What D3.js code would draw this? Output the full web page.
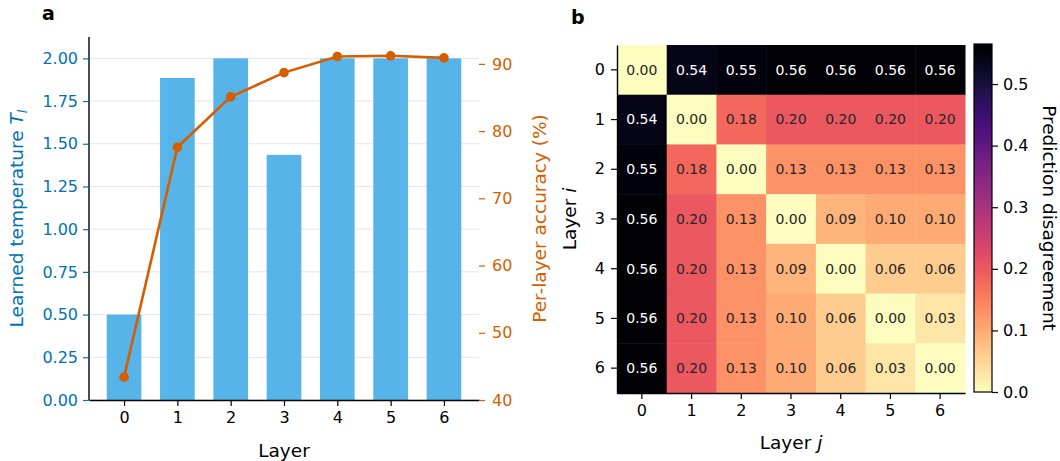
<!DOCTYPE html>
<html>
<head>
<meta charset="utf-8">
<script src="https://cdn.jsdelivr.net/npm/d3@7"></script>
<style>
  body { margin: 0; background: #fff; }
  svg { display: block; font-family: "DejaVu Sans", sans-serif; }
</style>
</head>
<body>
<svg id="fig" width="1060" height="461"></svg>
<script>
const layers = [0, 1, 2, 3, 4, 5, 6];
const temperature = [0.50, 1.885, 2.00, 1.435, 2.00, 2.00, 2.00];
const accuracy = [43.4, 77.6, 85.1, 88.7, 91.1, 91.2, 90.9];
const tempTicks = [0, 0.25, 0.5, 0.75, 1, 1.25, 1.5, 1.75, 2];
const accTicks = [40, 50, 60, 70, 80, 90];
const disagreement = [
  [0.00, 0.54, 0.55, 0.56, 0.56, 0.56, 0.56],
  [0.54, 0.00, 0.18, 0.20, 0.20, 0.20, 0.20],
  [0.55, 0.18, 0.00, 0.13, 0.13, 0.13, 0.13],
  [0.56, 0.20, 0.13, 0.00, 0.09, 0.10, 0.10],
  [0.56, 0.20, 0.13, 0.09, 0.00, 0.06, 0.06],
  [0.56, 0.20, 0.13, 0.10, 0.06, 0.00, 0.03],
  [0.56, 0.20, 0.13, 0.10, 0.06, 0.03, 0.00]
];
const cbarTicks = [0, 0.1, 0.2, 0.3, 0.4, 0.5];

const blue = '#56b4e9', blueText = '#0072b2', orange = '#d55e00';
const tickFont = 16, labelFont = 18.5;

const svg = d3.select('#fig');

function styleAxis(g, color) {
  g.attr('font-size', tickFont).attr('font-family', '"DejaVu Sans", sans-serif');
  g.selectAll('.tick line').attr('stroke', color === undefined ? '#000' : color).attr('stroke-width', 1.2);
  g.selectAll('.tick text').attr('fill', color === undefined ? '#000' : color);
  g.select('.domain').attr('stroke', '#000').attr('stroke-width', 1.4);
}

// ---- panel a ----
const ax = {l: 89, r: 479, t: 37, b: 400};
const x = d3.scaleLinear().domain([-0.6575, 6.6575]).range([ax.l, ax.r]);
const yT = d3.scaleLinear().domain([0, 2.125]).range([ax.b, ax.t]);
const yA = d3.scaleLinear().domain([40, 94]).range([ax.b, ax.t]);
const barW = 0.65;

svg.append('g').selectAll('line')
  .data(tempTicks)
  .enter()
  .append('line')
  .attr('x1', ax.l).attr('x2', ax.r)
  .attr('y1', d => yT(d)).attr('y2', d => yT(d))
  .attr('stroke', '#e6e6e6')
  .attr('stroke-width', 1);

svg.append('g').selectAll('rect')
  .data(layers)
  .enter()
  .append('rect')
  .attr('x', d => x(d - barW / 2))
  .attr('width', x(barW) - x(0))
  .attr('y', (d, i) => yT(temperature[i]))
  .attr('height', (d, i) => yT(0) - yT(temperature[i]))
  .attr('fill', blue);

const yTAxis = svg.append('g')
  .attr('transform', `translate(${ax.l},0)`)
  .call(d3.axisLeft(yT).tickValues(tempTicks).tickFormat(d3.format('.2f')).tickSize(6).tickSizeOuter(0).tickPadding(5));
styleAxis(yTAxis, blueText);
yTAxis.select('.domain').attr('d', `M0,${ax.b}V${ax.t}`);

const xAxis = svg.append('g')
  .attr('transform', `translate(0,${ax.b})`)
  .call(d3.axisBottom(x).tickValues(layers).tickFormat(d3.format('d')).tickSize(6).tickSizeOuter(0).tickPadding(6));
styleAxis(xAxis);

const yAAxis = svg.append('g')
  .attr('transform', `translate(${ax.r},0)`)
  .call(d3.axisRight(yA).tickValues(accTicks).tickSize(6).tickSizeOuter(0).tickPadding(7));
styleAxis(yAAxis, orange);
yAAxis.select('.domain').remove();

const line = d3.line()
  .x((d, i) => x(layers[i]))
  .y(d => yA(d));
svg.append('path')
  .datum(accuracy)
  .attr('d', line)
  .attr('fill', 'none')
  .attr('stroke', orange)
  .attr('stroke-width', 2.6);
svg.append('g').selectAll('circle')
  .data(accuracy)
  .enter()
  .append('circle')
  .attr('cx', (d, i) => x(layers[i]))
  .attr('cy', d => yA(d))
  .attr('r', 4.8)
  .attr('fill', orange);

svg.append('text')
  .attr('transform', `translate(23,${(ax.t + ax.b) / 2}) rotate(-90)`)
  .attr('text-anchor', 'middle')
  .attr('font-size', labelFont)
  .attr('fill', blueText)
  .html('Learned temperature <tspan font-style="italic">T</tspan><tspan font-style="italic" font-size="13" dy="4">l</tspan>');

svg.append('text')
  .attr('transform', `translate(546,${(ax.t + ax.b) / 2}) rotate(-90)`)
  .attr('text-anchor', 'middle')
  .attr('font-size', labelFont)
  .attr('fill', orange)
  .text('Per-layer accuracy (%)');

svg.append('text')
  .attr('x', (ax.l + ax.r) / 2)
  .attr('y', 457)
  .attr('text-anchor', 'middle')
  .attr('font-size', labelFont)
  .text('Layer');

svg.append('text')
  .attr('x', 42).attr('y', 20)
  .attr('font-size', 19).attr('font-weight', 'bold')
  .text('a');

// ---- panel b ----
const hm = {l: 617, r: 965, t: 45, b: 393};
const hx = d3.scaleBand().domain(layers).range([hm.l, hm.r]);
const hy = d3.scaleBand().domain(layers).range([hm.t, hm.b]);
const vmax = 0.565;
const color = v => d3.interpolateMagma(1 - v / vmax);

const cells = [];
disagreement.forEach((row, i) => row.forEach((v, j) => cells.push({i, j, v})));

svg.append('g').selectAll('rect')
  .data(cells)
  .enter()
  .append('rect')
  .attr('x', d => hx(d.j))
  .attr('y', d => hy(d.i))
  .attr('width', hx.bandwidth() + 0.5)
  .attr('height', hy.bandwidth() + 0.5)
  .attr('fill', d => color(d.v));

svg.append('g').selectAll('text')
  .data(cells)
  .enter()
  .append('text')
  .attr('x', d => hx(d.j) + hx.bandwidth() / 2)
  .attr('y', d => hy(d.i) + hy.bandwidth() / 2)
  .attr('dy', '0.35em')
  .attr('text-anchor', 'middle')
  .attr('font-size', 14)
  .attr('fill', d => d.v > 0.3 ? '#ffffff' : '#262626')
  .text(d => d3.format('.2f')(d.v));

const hxAxis = svg.append('g')
  .attr('transform', `translate(0,${hm.b})`)
  .call(d3.axisBottom(hx).tickSize(6).tickSizeOuter(0).tickPadding(6));
styleAxis(hxAxis);
const hyAxis = svg.append('g')
  .attr('transform', `translate(${hm.l},0)`)
  .call(d3.axisLeft(hy).tickSize(6).tickSizeOuter(0).tickPadding(6));
styleAxis(hyAxis);

svg.append('text')
  .attr('x', (hm.l + hm.r) / 2)
  .attr('y', 449)
  .attr('text-anchor', 'middle')
  .attr('font-size', labelFont)
  .html('Layer <tspan font-style="italic">j</tspan>');

svg.append('text')
  .attr('transform', `translate(576,${(hm.t + hm.b) / 2}) rotate(-90)`)
  .attr('text-anchor', 'middle')
  .attr('font-size', labelFont)
  .html('Layer <tspan font-style="italic">i</tspan>');

svg.append('text')
  .attr('x', 571).attr('y', 24)
  .attr('font-size', 19).attr('font-weight', 'bold')
  .text('b');

// colorbar
const cb = {l: 974, r: 992, t: 44, b: 392};
const cy = d3.scaleLinear().domain([0, vmax]).range([cb.b, cb.t]);
const grad = svg.append('defs').append('linearGradient')
  .attr('id', 'cbar')
  .attr('x1', 0).attr('x2', 0).attr('y1', 1).attr('y2', 0);
grad.selectAll('stop')
  .data(d3.range(0, 1.0001, 0.02))
  .enter()
  .append('stop')
  .attr('offset', d => d)
  .attr('stop-color', d => color(d * vmax));
svg.append('rect')
  .attr('x', cb.l).attr('y', cb.t)
  .attr('width', cb.r - cb.l).attr('height', cb.b - cb.t)
  .attr('fill', 'url(#cbar)')
  .attr('stroke', '#000')
  .attr('stroke-width', 1.2);
const cAxis = svg.append('g')
  .attr('transform', `translate(${cb.r},0)`)
  .call(d3.axisRight(cy).tickValues(cbarTicks).tickFormat(d3.format('.1f')).tickSize(6).tickSizeOuter(0).tickPadding(5));
styleAxis(cAxis);
cAxis.select('.domain').remove();

svg.append('text')
  .attr('transform', `translate(1043,${(cb.t + cb.b) / 2}) rotate(90)`)
  .attr('text-anchor', 'middle')
  .attr('font-size', labelFont)
  .text('Prediction disagreement');
</script>
</body>
</html>
